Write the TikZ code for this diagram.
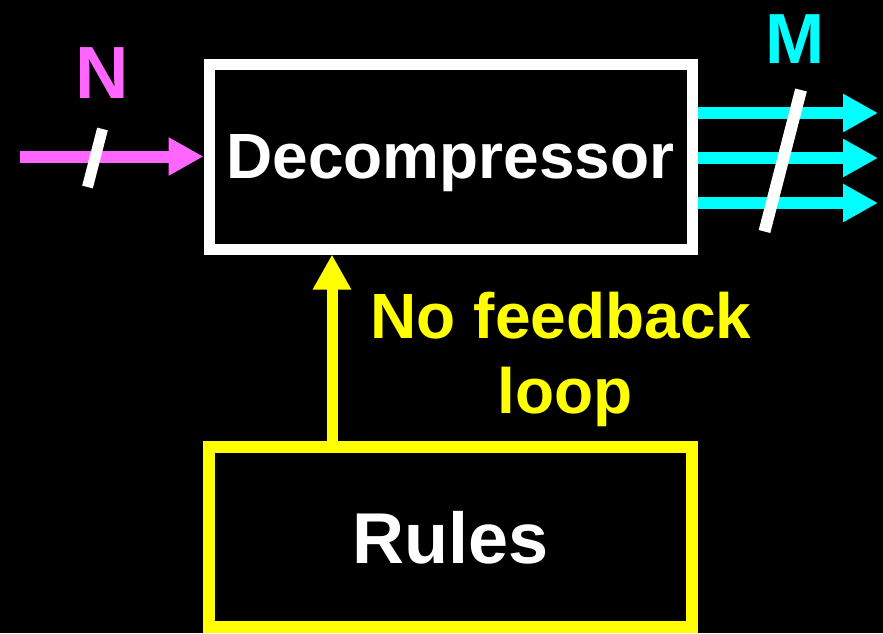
\documentclass[tikz,border=0pt]{standalone}
\usepackage{fontspec}
\setmainfont{Liberation Sans}
\usetikzlibrary{arrows.meta}
\definecolor{inpink}{RGB}{255,102,255}
\definecolor{outcyan}{RGB}{0,255,255}
\definecolor{ruleyellow}{RGB}{255,255,0}
\begin{document}
\begin{tikzpicture}[x=1pt,y=-1pt,
    >={Triangle[length=35pt,width=36pt]},
    box/.style={draw,inner sep=0pt,text=white,text depth=0pt},
    wire/.style={line width=12pt,->},
    slashmark/.style={draw=white,line width=11pt},
    bigtext/.style={font=\fontsize{64}{75}\selectfont\bfseries}]
      % background and page size
      \fill[black] (0,0) rectangle (883,633);
      \useasboundingbox (0,0) rectangle (883,633);
      % blocks
      \node[box,bigtext,draw=white,line width=11pt,minimum width=483pt,minimum height=185pt]
        (dec) at (450.5,156.5) {Decompressor};
      \node[box,draw=ruleyellow,line width=12pt,minimum width=483pt,minimum height=180pt,
        font=\fontsize{72}{80}\selectfont\bfseries]
        (rules) at (450.5,537) {Rules};
      % free ends
      \coordinate (in) at (20,156.5);
      \coordinate (out1) at (878,113);
      \coordinate (out2) at (878,158);
      \coordinate (out3) at (878,203);
      \coordinate (fb) at (332,350);
      % connectors
      \draw[wire,inpink] (in) -- (dec.west);
      \begin{scope}[wire,outcyan]
        \draw (dec.east |- out1) -- (out1);
        \draw (dec.east |- out2) -- (out2);
        \draw (dec.east |- out3) -- (out3);
      \end{scope}
      \draw[wire,line width=11pt,ruleyellow] (rules.north -| fb) -- (dec.south -| fb);
      % bus widths
      \draw[slashmark] (102.5,129) -- (87.5,187);
      \draw[slashmark,line width=12pt] (801,90) -- (764.5,231.5);
      \node[font=\fontsize{74}{80}\selectfont\bfseries,text=inpink,anchor=base]
        (n) at (102,98) {N};
      \node[font=\fontsize{71}{80}\selectfont\bfseries,text=outcyan,anchor=base]
        (m) at (795,63) {M};
      \node[bigtext,text=ruleyellow,align=center,inner sep=0pt,anchor=north]
        (nofb) at (561,292) {No feedback\\\hspace*{8pt}loop};
    \end{tikzpicture}
\end{document}
